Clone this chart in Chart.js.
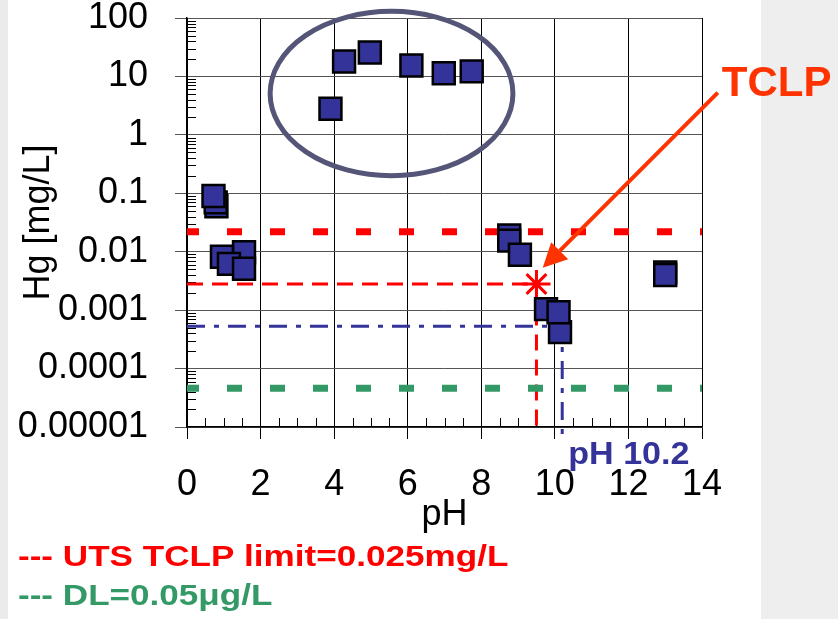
<!DOCTYPE html>
<html>
<head>
<meta charset="utf-8">
<script src="https://cdn.jsdelivr.net/npm/chart.js@4.4.1/dist/chart.umd.min.js"></script>
<style>
html, body { margin: 0; padding: 0; background: #fff; }
</style>
</head>
<body>
<canvas id="chartCanvas" width="838" height="619"></canvas>
<script>
// Muestras: pH y Hg [mg/L] (orden = orden de dibujo)
const samplePH = [0.80, 0.78, 0.72, 1.55, 0.95, 1.14, 1.55, 3.90, 4.27, 4.97, 6.10, 6.98, 7.74, 8.76, 8.76, 9.05, 9.76, 10.14, 10.10, 13.0, 13.0];
const sampleHg = [0.060, 0.070, 0.090, 0.0098, 0.0082, 0.0062, 0.0051, 2.8, 18, 25.7, 15.4, 11.3, 12.2, 0.019, 0.0155, 0.0089, 0.00104, 0.00042, 0.00092, 0.0044, 0.0040];

// Punto TCLP
const tclpPoint = { x: 9.5, y: 0.0028 };

// Límites horizontales
const utsLimit = 0.022;
const dlLimit = 0.000046;
const ph102 = { x: 10.2, y: 0.00053 };

// Ejes
const xTicks = [0, 2, 4, 6, 8, 10, 12, 14];
const yTickValues = [100, 10, 1, 0.1, 0.01, 0.001, 0.0001, 0.00001];
const yTickLabels = ['100', '10', '1', '0.1', '0.01', '0.001', '0.0001', '0.00001'];
const yMinorMult = [2, 3, 4, 5, 6, 7, 8, 9];

// Óvalo (en unidades de datos) y flecha
const ovalBox = { xMin: 2.26, xMax: 8.86, yMin: 0.2, yMax: 130 };
const arrowFrom = { x: 14.43, y: 5.3 };
const arrowTo = { x: 9.67, y: 0.0053 };

const legendLines = [
    { text: '--- UTS TCLP limit=0.025mg/L', color: '#ff0000', y: 566 },
    { text: '--- DL=0.05\u03bcg/L', color: '#339966', y: 605 }
];

const FONT = "'Liberation Sans', Arial, sans-serif";

const points = samplePH.map((x, i) => ({ x: x, y: sampleHg[i] }));

const extras = {
    id: 'extras',
    beforeDraw(chart) {
        const ctx = chart.ctx;
        ctx.save();
        ctx.fillStyle = '#ffffff';
        ctx.fillRect(0, 0, chart.width, chart.height);
        ctx.fillStyle = '#eeeeee';
        ctx.fillRect(761, 0, chart.width - 761, chart.height);
        ctx.fillStyle = '#ebebeb';
        ctx.fillRect(0, 0, 8, chart.height);
        ctx.restore();
    },
    beforeDatasetsDraw(chart) {
        // marcas menores hacia adentro
        const ctx = chart.ctx, xs = chart.scales.x, ys = chart.scales.y, a = chart.chartArea;
        ctx.save();
        ctx.strokeStyle = '#000';
        ctx.lineWidth = 1;
        ctx.beginPath();
        for (let v = 0.5; v < 14; v += 0.5) {
            if (v % 2 === 0) continue;
            const px = Math.round(xs.getPixelForValue(v)) + 0.5;
            ctx.moveTo(px, a.bottom);
            ctx.lineTo(px, a.bottom - 9);
        }
        for (let e = -5; e < 2; e++) {
            yMinorMult.forEach(m => {
                const py = Math.round(ys.getPixelForValue(m * Math.pow(10, e))) + 0.5;
                ctx.moveTo(a.left, py);
                ctx.lineTo(a.left + 9, py);
            });
        }
        ctx.stroke();
        ctx.restore();
    },
    afterDatasetsDraw(chart) {
        const ctx = chart.ctx, xs = chart.scales.x, ys = chart.scales.y;
        ctx.save();
        // óvalo
        const x1 = xs.getPixelForValue(ovalBox.xMin), x2 = xs.getPixelForValue(ovalBox.xMax);
        const y1 = ys.getPixelForValue(ovalBox.yMax), y2 = ys.getPixelForValue(ovalBox.yMin);
        ctx.strokeStyle = '#555577';
        ctx.lineWidth = 5;
        ctx.beginPath();
        ctx.ellipse((x1 + x2) / 2, (y1 + y2) / 2, (x2 - x1) / 2, (y2 - y1) / 2, 0, 0, Math.PI * 2);
        ctx.stroke();

        // flecha TCLP
        const fx = xs.getPixelForValue(arrowFrom.x), fy = ys.getPixelForValue(arrowFrom.y);
        const tx = xs.getPixelForValue(arrowTo.x), ty = ys.getPixelForValue(arrowTo.y);
        const ang = Math.atan2(ty - fy, tx - fx);
        const headLen = 24, headW = 12;
        const bx = tx - headLen * Math.cos(ang), by = ty - headLen * Math.sin(ang);
        ctx.strokeStyle = '#ff3300';
        ctx.fillStyle = '#ff3300';
        ctx.lineWidth = 4;
        ctx.beginPath();
        ctx.moveTo(fx, fy);
        ctx.lineTo(bx, by);
        ctx.stroke();
        ctx.beginPath();
        ctx.moveTo(tx, ty);
        ctx.lineTo(bx + headW * Math.sin(ang), by - headW * Math.cos(ang));
        ctx.lineTo(bx - headW * Math.sin(ang), by + headW * Math.cos(ang));
        ctx.closePath();
        ctx.fill();

        ctx.font = 'bold 42px ' + FONT;
        ctx.textBaseline = 'alphabetic';
        ctx.textAlign = 'left';
        ctx.fillText('TCLP', fx + 4, fy + 3);

        // etiqueta pH 10.2
        ctx.fillStyle = '#333399';
        ctx.font = 'bold 31px ' + FONT;
        ctx.save();
        ctx.translate(xs.getPixelForValue(ph102.x) + 6, chart.chartArea.bottom + 37);
        ctx.scale(1.1, 1);
        ctx.fillText('pH 10.2', 0, 0);
        ctx.restore();
        ctx.restore();
    },
    afterDraw(chart) {
        const ctx = chart.ctx;
        ctx.save();
        ctx.font = 'bold 29px ' + FONT;
        ctx.textBaseline = 'alphabetic';
        legendLines.forEach(l => {
            ctx.save();
            ctx.translate(18, l.y);
            ctx.scale(1.21, 1);
            ctx.fillStyle = l.color;
            ctx.fillText(l.text, 0, 0);
            ctx.restore();
        });
        ctx.restore();
    }
};

const ctx = document.getElementById('chartCanvas').getContext('2d');

new Chart(ctx, {
    type: 'scatter',
    data: {
        datasets: [
            {
                label: 'Hg',
                data: points,
                pointStyle: 'rect',
                pointRadius: 15.5,
                pointHoverRadius: 15.5,
                backgroundColor: '#333399',
                borderColor: '#000000',
                borderWidth: 2.5,
                order: 1
            },
            {
                label: 'TCLP',
                data: [tclpPoint],
                pointStyle: 'star',
                pointRadius: 14,
                borderColor: '#ff0000',
                borderWidth: 3,
                order: 2
            },
            {
                label: 'UTS',
                data: [{ x: 0, y: utsLimit }, { x: 14, y: utsLimit }],
                showLine: true,
                pointRadius: 0,
                borderColor: '#ff0000',
                borderWidth: 7,
                borderDash: [15, 28],
                borderDashOffset: 3,
                order: 3
            },
            {
                label: 'DL',
                data: [{ x: 0, y: dlLimit }, { x: 14, y: dlLimit }],
                showLine: true,
                pointRadius: 0,
                borderColor: '#339966',
                borderWidth: 7,
                borderDash: [15, 28],
                borderDashOffset: 3,
                order: 3
            },
            {
                label: 'TCLP guía',
                data: [{ x: 0, y: tclpPoint.y }, { x: tclpPoint.x, y: tclpPoint.y }, { x: tclpPoint.x, y: 0.00001 }],
                showLine: true,
                pointRadius: 0,
                borderColor: '#ff0000',
                borderWidth: 3,
                borderDash: [16, 9],
                order: 3
            },
            {
                label: 'pH 10.2 guía',
                data: [{ x: 0, y: ph102.y }, { x: ph102.x, y: ph102.y }, { x: ph102.x, y: 0.0000065 }],
                showLine: true,
                pointRadius: 0,
                borderColor: '#333399',
                borderWidth: 3,
                borderDash: [18, 9, 5, 9],
                clip: false,
                order: 3
            }
        ]
    },
    options: {
        responsive: false,
        animation: false,
        events: [],
        layout: { padding: { left: 0, right: 136, top: 17, bottom: 86 } },
        plugins: {
            legend: { display: false },
            tooltip: { enabled: false }
        },
        scales: {
            x: {
                type: 'linear',
                min: 0,
                max: 14,
                afterBuildTicks: s => { s.ticks = xTicks.map(v => ({ value: v })); },
                afterFit: s => { s.height = 106; s.paddingLeft = 0; s.paddingRight = 0; },
                ticks: {
                    color: '#000',
                    padding: 28,
                    maxRotation: 0,
                    font: { family: FONT, size: 36, lineHeight: 1 }
                },
                grid: { color: '#000', lineWidth: 1, tickLength: 12 },
                border: { color: '#000', width: 1.5 },
                title: {
                    display: true,
                    text: 'pH',
                    color: '#000',
                    padding: 0,
                    font: { family: FONT, size: 36, lineHeight: 1 }
                }
            },
            y: {
                type: 'logarithmic',
                min: 0.00001,
                max: 100,
                afterBuildTicks: s => { s.ticks = yTickValues.map(v => ({ value: v })); },
                afterFit: s => { s.width = 187; s.paddingTop = 0; s.paddingBottom = 0; },
                ticks: {
                    color: '#000',
                    padding: 27,
                    font: { family: FONT, size: 36, lineHeight: 1 },
                    callback: (v) => {
                        const i = yTickValues.findIndex(t => Math.abs(Math.log10(t) - Math.log10(v)) < 1e-6);
                        return i >= 0 ? yTickLabels[i] : '';
                    }
                },
                grid: { color: '#555555', lineWidth: 1, tickLength: 12 },
                border: { color: '#000', width: 1.5 },
                title: {
                    display: true,
                    text: 'Hg [mg/L]',
                    color: '#000',
                    padding: { top: 21, bottom: 0 },
                    font: { family: FONT, size: 36, lineHeight: 1 }
                }
            }
        }
    },
    plugins: [extras]
});
</script>
</body>
</html>
